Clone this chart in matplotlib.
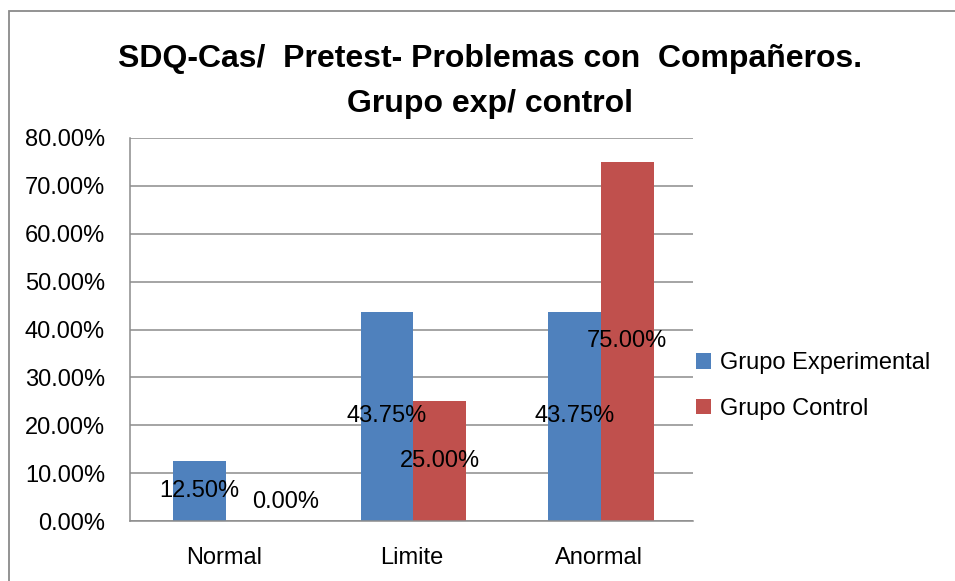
import matplotlib.pyplot as plt
import numpy as np
from matplotlib.patches import Rectangle

categories = ["Normal", "Limite", "Anormal"]
series_names = ["Grupo Experimental", "Grupo Control"]
experimental = [12.50, 43.75, 43.75]
control = [0.00, 25.00, 75.00]
y_ticks = [0, 10, 20, 30, 40, 50, 60, 70, 80]

BLUE = "#4F81BD"
RED = "#C0504D"
GRID = "#8C8C8C"
FS = 17

plt.rcParams["font.family"] = ["Liberation Sans", "DejaVu Sans"]

W, H = 955, 581
fig = plt.figure(figsize=(W / 100, H / 100), dpi=100)

# outer chart frame (runs off the right and bottom edge)
fig.patches.append(
    Rectangle((9 / W, -0.1), 1.2, 1 - 11 / H + 0.1, transform=fig.transFigure,
              fill=False, edgecolor="#8A8A8A", linewidth=1.3)
)

ax = fig.add_axes([130 / W, 1 - 521 / H, (693 - 130) / W, (521 - 138) / H])

x = np.arange(len(categories))
w = 0.28
bars_e = ax.bar(x - w / 2 + 0.01, experimental, w, color=BLUE, label=series_names[0], zorder=2)
bars_c = ax.bar(x + w / 2 + 0.01, control, w, color=RED, label=series_names[1], zorder=2)

for bars, vals in ((bars_e, experimental), (bars_c, control)):
    for b, v in zip(bars, vals):
        cx = b.get_x() + b.get_width() / 2
        if v == 0:
            ax.text(cx, 4, f"{v:.2f}%", ha="left", va="center", fontsize=FS, zorder=3)
        else:
            ax.text(cx, v / 2, f"{v:.2f}%", ha="center", va="center", fontsize=FS, zorder=3)

ax.set_xlim(-0.5, 2.5)
ax.set_ylim(0, 80)
ax.set_yticks(y_ticks)
ax.set_yticklabels([f"{t:.2f}%" for t in y_ticks], fontsize=FS)
ax.set_xticks(x)
ax.set_xticklabels(categories, fontsize=FS)
ax.tick_params(axis="y", length=0, pad=18)
ax.tick_params(axis="x", length=0, pad=19)
ax.yaxis.grid(True, color=GRID, linewidth=1.1, zorder=0)
ax.set_axisbelow(True)
for s in ("top", "right"):
    ax.spines[s].set_visible(False)
for s in ("left", "bottom"):
    ax.spines[s].set_color(GRID)
    ax.spines[s].set_linewidth(1.1)

fig.legend(handles=[bars_e, bars_c], labels=series_names, loc="center left",
           bbox_to_anchor=(696 / W, 1 - 386 / H), frameon=False, fontsize=FS,
           borderaxespad=0, borderpad=0,
           handlelength=0.65, handleheight=0.65, handletextpad=0.35, labelspacing=1.0)

fig.text(0.513, 1 - 59 / H, "SDQ-Cas/  Pretest- Problemas con  Compañeros.",
         ha="center", va="center", fontsize=23, fontweight="bold")
fig.text(0.513, 1 - 104 / H, "Grupo exp/ control",
         ha="center", va="center", fontsize=23, fontweight="bold")

fig.savefig("out.png", dpi=100)
